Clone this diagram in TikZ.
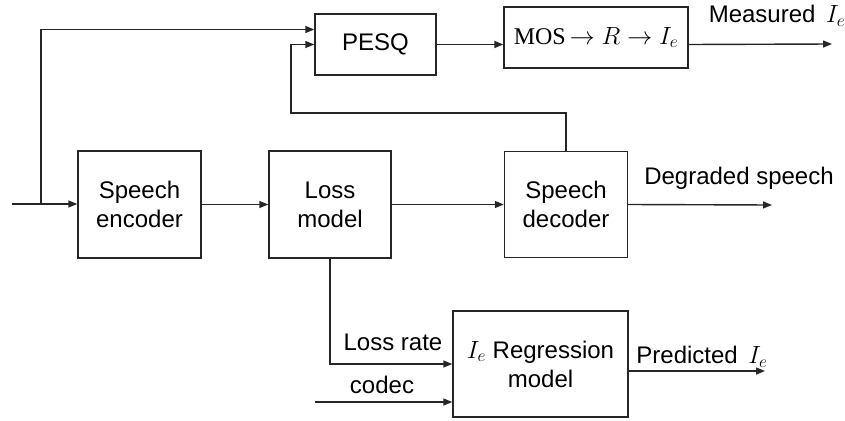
\documentclass[tikz,border=0pt]{standalone}
\usepackage{fontspec}
\setmainfont{Liberation Sans}
\newfontfamily\serifmos{Liberation Serif}
\usetikzlibrary{arrows.meta}
\begin{document}
\begin{tikzpicture}[x=1pt,y=-1pt,
  box/.style={draw=black!85,line width=1.4pt,fill=white,align=center,inner sep=0pt,
    font=\fontsize{24}{29}\selectfont},
  arr/.style={line width=1.4pt,draw=black!85,-{Triangle[length=9pt,width=7pt]}},
  lbl/.style={inner sep=0pt,font=\fontsize{24}{29}\selectfont}]
\useasboundingbox (0,0) rectangle (845,420);
% boxes
\node[box,minimum width=123pt,minimum height=107pt] (enc) at (139.5,204.5) {Speech\\encoder};
\node[box,minimum width=122pt,minimum height=107pt] (loss) at (330,204.5) {Loss\\model};
\node[box,minimum width=123pt,minimum height=106pt] (dec) at (566,204.5) {Speech\\decoder};
\node[box,minimum width=121pt,minimum height=61pt] (pesq) at (375.5,44.5) {PESQ};
\node[box,minimum width=184pt,minimum height=61pt] (mos) at (596,37.5) {\fontsize{24}{28}\selectfont{\serifmos MOS}$\,\rightarrow R\rightarrow I_e$};
\node[box,minimum width=175pt,minimum height=106pt] (reg) at (540.5,364) {$I_e$ Regression\\model};
% coordinates
\coordinate (in) at (12,204);
\coordinate (br) at (41,204);
\coordinate (fb) at (291,113);
\coordinate (meas) at (832,44);
\coordinate (deg) at (772,205);
\coordinate (cod) at (315,402);
\coordinate (pred) at (765,371);
% connectors
\draw[arr] (in) -- (in -| enc.west);
\draw[arr] (br) -- (br |- 0,29.5) -- ([yshift=15pt]pesq.west);
\draw[arr] (enc.east) -- (loss.west);
\draw[arr] (loss.east) -- (dec.west);
\draw[arr] (dec.north) -- (dec.north |- fb) -- (fb) |- (pesq.west);
\draw[arr] (pesq.east) -- (pesq.east -| mos.west);
\draw[arr] (pesq.east -| mos.east) -- (meas);
\draw[arr] (dec.east) -- (deg);
\draw[arr] (loss.south) |- (reg.west);
\draw[arr] (cod) -- (cod -| reg.west);
\draw[arr] (pred -| reg.east) -- (pred);
% labels
\node[lbl] (lmeas) at (777,16) {Measured \,$I_e$};
\node[lbl] (ldeg) at (739,178) {Degraded speech};
\node[lbl] (lloss) at (393,342) {Loss rate};
\node[lbl] (lcod) at (382,385) {codec};
\node[lbl] (lpred) at (702,357) {Predicted \,$I_e$};
\end{tikzpicture}
\end{document}
